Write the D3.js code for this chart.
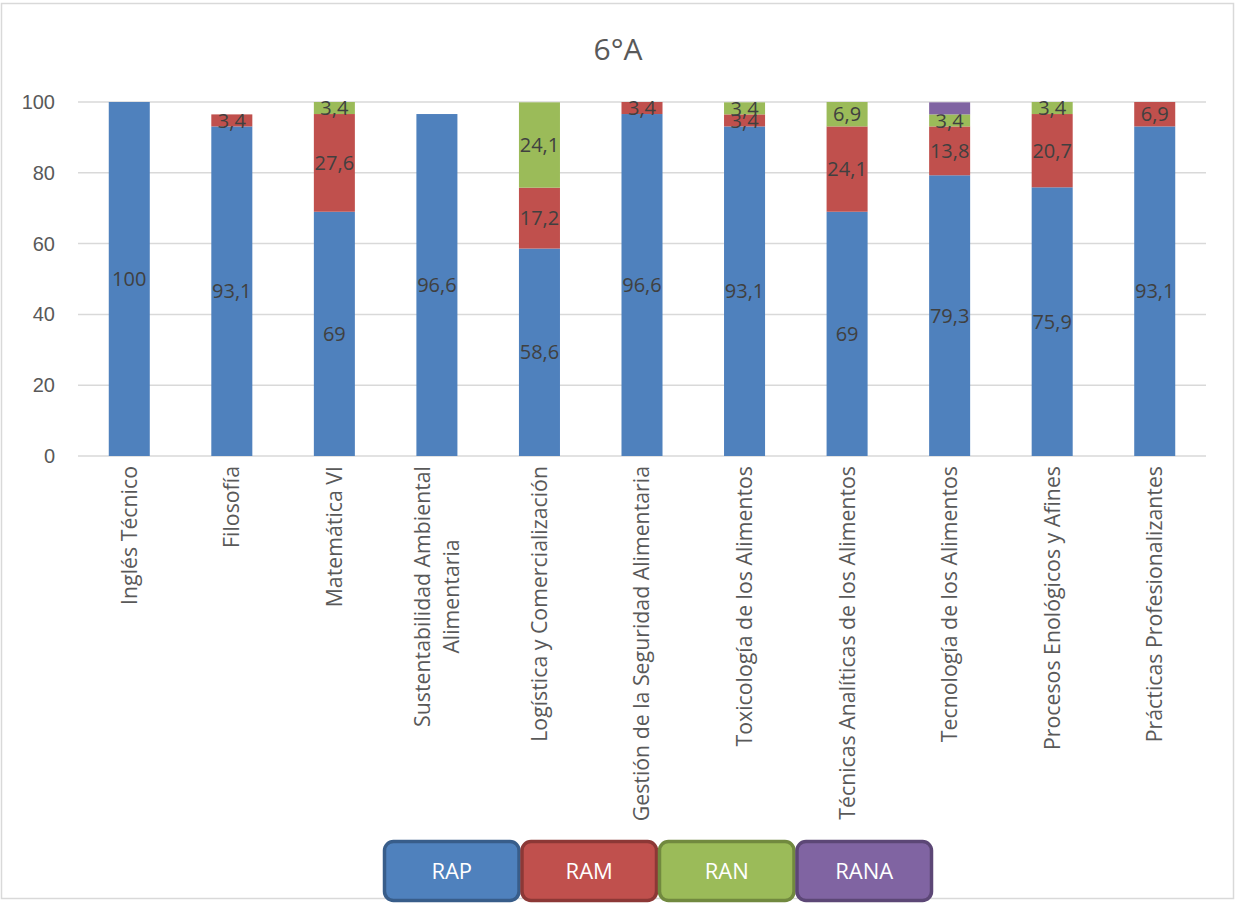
<!DOCTYPE html>
<html><head><meta charset="utf-8">
<script src="https://cdn.jsdelivr.net/npm/d3@7"></script>
<style>html,body{margin:0;padding:0;background:#fff;}svg{display:block;font-family:"Open Sans","Noto Sans",sans-serif;}</style>
</head><body>
<svg id="c" width="1236" height="905"></svg>
<script>
const title = "6°A";
const categories = ["Inglés Técnico","Filosofía","Matemática VI","Sustentabilidad Ambiental|Alimentaria","Logística y Comercialización","Gestión de la Seguridad Alimentaria","Toxicología de los Alimentos","Técnicas Analíticas de los Alimentos","Tecnología de los Alimentos","Procesos Enológicos y Afines","Prácticas Profesionalizantes"];
const seriesNames = ["RAP","RAM","RAN","RANA"];
const RAP  = [100, 93.1, 69, 96.6, 58.6, 96.6, 93.1, 69, 79.3, 75.9, 93.1];
const RAM  = [0, 3.4, 27.6, 0, 17.2, 3.4, 3.4, 24.1, 13.8, 20.7, 6.9];
const RAN  = [0, 0, 3.4, 0, 24.1, 0, 3.4, 6.9, 3.4, 3.4, 0];
const RANA = [0, 0, 0, 0, 0, 0, 0, 0, 3.4, 0, 0];
const showLabel = [true, true, true, false];
const yTicks = [0, 20, 40, 60, 80, 100];
const fills = ["#4f81bd","#c0504d","#9bbb59","#8064a2"];
const strokes = ["#385d8a","#8c3836","#71893f","#5c4776"];

(function(){
const svg = d3.select("#c");
svg.append("rect").attr("x",1.5).attr("y",3.5).attr("width",1232).attr("height",895)
  .attr("fill","#fff").attr("stroke","#d9d9d9").attr("stroke-width",1.5);

const pL = 78, pR = 1206, pT = 102, pB = 456;
const x = d3.scaleBand().domain(categories).range([pL, pR]).paddingInner(0.6).paddingOuter(0.3);
const y = d3.scaleLinear().domain([0, 100]).range([pB, pT]);

svg.append("text").attr("x", 618).attr("y", 60).attr("text-anchor","middle")
  .attr("font-size", 30).attr("fill","#595959").text(title);

svg.append("g").selectAll("line").data(yTicks).join("line")
  .attr("x1", pL).attr("x2", pR).attr("y1", d=>y(d)).attr("y2", d=>y(d))
  .attr("stroke","#d9d9d9").attr("stroke-width",1.5);

const yAxis = d3.axisLeft(y).tickValues(yTicks).tickSize(0).tickPadding(0);
const ya = svg.append("g").attr("transform",`translate(${pL-23},0)`).call(yAxis);
ya.select(".domain").remove();
ya.selectAll("text").attr("font-size",20).attr("fill","#595959").attr("font-family","inherit");

const table = categories.map((c,i)=>({cat:c, RAP:RAP[i], RAM:RAM[i], RAN:RAN[i], RANA:RANA[i]}));
const stack = d3.stack().keys(seriesNames)(table);

stack.forEach((s, si) => {
  const g = svg.append("g");
  g.selectAll("rect").data(s).join("rect")
    .attr("x", d=>x(d.data.cat)).attr("width", x.bandwidth())
    .attr("y", d=>y(d[1])).attr("height", d=>Math.max(0, y(d[0])-y(d[1])))
    .attr("fill", fills[si]);
  if (showLabel[si]) {
    g.selectAll("text").data(s.filter(d=>d[1]-d[0]>0)).join("text")
      .attr("x", d=>x(d.data.cat)+x.bandwidth()/2)
      .attr("y", d=>(y(d[0])+y(d[1]))/2)
      .attr("dy","0.36em")
      .attr("text-anchor","middle").attr("font-size",20).attr("fill","#404040")
      .text(d=>String(+(d[1]-d[0]).toFixed(1)).replace(".", ","));
  }
});

const xl = svg.append("g");
const xfs = 21.3;
categories.forEach(c => {
  const lines = c.split("|");
  const cx = x(c) + x.bandwidth()/2;
  const lh = 29;
  const t = xl.append("text")
    .attr("transform", `translate(${cx},${pB+10}) rotate(-90)`)
    .attr("font-size",xfs).attr("fill","#595959");
  if (lines.length === 1) {
    t.attr("text-anchor","end").attr("dy","0.35em").text(lines[0]);
  } else {
    const tmp = svg.append("text").attr("font-size",xfs).text(lines[0]);
    const w = Math.max(...lines.map(l=>{tmp.text(l); return tmp.node().getComputedTextLength();}));
    tmp.remove();
    t.attr("text-anchor","middle");
    lines.forEach((l,k)=>{
      t.append("tspan").attr("x", -w/2).attr("y", (k-(lines.length-1)/2)*lh).attr("dy","0.35em").text(l);
    });
  }
});

const lg = svg.append("g");
const lx0 = 383, lw = 137.5, ly = 840, lhgt = 62;
seriesNames.forEach((n,i)=>{
  const gx = lx0 + i*lw;
  lg.append("rect").attr("x", gx+1.5).attr("y", ly+1.5).attr("width", lw-3).attr("height", lhgt-3)
    .attr("rx", 9).attr("ry", 9).attr("fill", fills[i]).attr("stroke", strokes[i]).attr("stroke-width", 3.5);
  lg.append("text").attr("x", gx+lw/2).attr("y", ly+lhgt/2).attr("dy","0.36em").attr("text-anchor","middle")
    .attr("font-size",22).attr("fill","#fff").text(n);
});
})();
</script>
</body></html>
